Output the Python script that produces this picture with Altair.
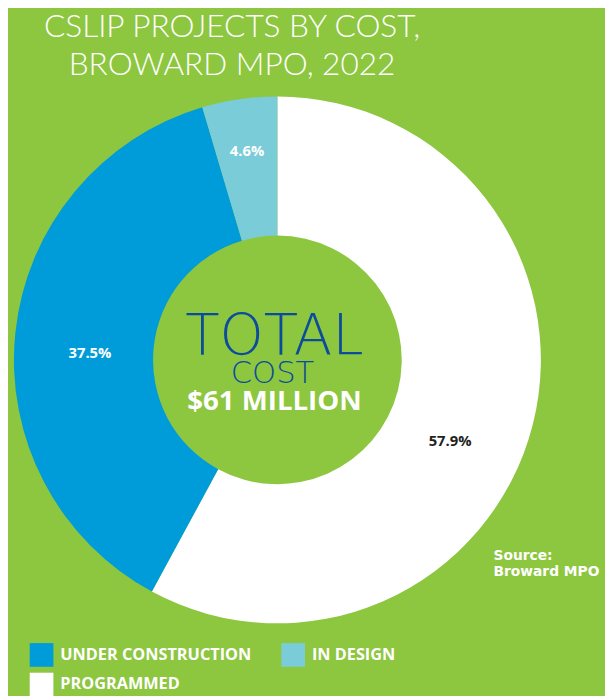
import altair as alt
import pandas as pd

categories = ["PROGRAMMED", "UNDER CONSTRUCTION", "IN DESIGN"]
values = [57.9, 37.5, 4.6]
order = [0, 1, 2]
legend_domain = ["UNDER CONSTRUCTION", "IN DESIGN", "PROGRAMMED"]
legend_colors = ["#009CDA", "#7ACCD8", "#FFFFFF"]
title_lines = ["CSLIP PROJECTS BY COST,", "BROWARD MPO, 2022"]
center_texts = ["TOTAL", "COST", "$61 MILLION"]
source_lines = ["Source:", "Broward MPO"]

GREEN = "#8DC63F"
DARK_BLUE = "#0B4C9C"

df = pd.DataFrame({"category": categories, "value": values, "order": order})

CX, CY = 273, 352

base = alt.Chart(df).transform_calculate(
    label="format(datum.value, '.1f') + '%'"
)

theta = alt.Theta("value:Q", stack=True)

arcs = base.mark_arc(outerRadius=267, innerRadius=126, strokeWidth=0).encode(
    theta=theta,
    order=alt.Order("order:Q"),
    color=alt.Color(
        "category:N",
        scale=alt.Scale(domain=legend_domain, range=legend_colors),
        legend=alt.Legend(
            orient="none", legendX=22, legendY=639, columns=2, direction="horizontal",
            title=None, symbolType="square", symbolSize=576, symbolStrokeWidth=0,
            symbolOpacity=1, labelLimit=400,
            labelFont="Open Sans", labelFontSize=16.5, labelFontWeight="bold",
            labelColor="white", labelOffset=7, rowPadding=6, columnPadding=30,
            padding=0,
        ),
    ),
    x=alt.value(CX),
    y=alt.value(CY),
)


def seg_label(cat, radius, color, dx=0, dy=0):
    return base.mark_text(
        radius=radius, font="Open Sans", fontSize=15, fontWeight="bold",
        dx=dx, dy=dy,
    ).encode(
        theta=theta,
        order=alt.Order("order:Q"),
        text="label:N",
        color=alt.condition(alt.datum.category == cat, alt.value(color), alt.value("transparent")),
        x=alt.value(CX),
        y=alt.value(CY),
    )


lab_prog = seg_label("PROGRAMMED", 195, "#231F20", dx=-14, dy=34)
lab_uc = seg_label("UNDER CONSTRUCTION", 193, "white", dx=2, dy=13)
lab_id = seg_label("IN DESIGN", 214, "white")

txt = alt.Chart(pd.DataFrame({"a": [0]}))

title = txt.mark_text(
    text=title_lines, font="Lato", fontWeight=300, fontSize=32, color="white",
    align="center", baseline="alphabetic", lineHeight=38,
).encode(x=alt.value(227), y=alt.value(25))

total = txt.mark_text(
    text=center_texts[0], font="DejaVu Sans", fontWeight=200, fontSize=57, color=DARK_BLUE,
    align="center", baseline="alphabetic",
).encode(x=alt.value(270), y=alt.value(347))

cost = txt.mark_text(
    text=center_texts[1], font="DejaVu Sans", fontWeight=200, fontSize=31, color=DARK_BLUE,
    align="center", baseline="alphabetic",
).encode(x=alt.value(268), y=alt.value(375))

million = txt.mark_text(
    text=center_texts[2], font="Open Sans", fontWeight="bold", fontSize=28, color="white",
    align="center", baseline="alphabetic",
).encode(x=alt.value(270), y=alt.value(403))

source = txt.mark_text(
    text=source_lines, font="DejaVu Sans", fontWeight="bold", fontSize=14, color="white",
    align="left", baseline="alphabetic", lineHeight=16,
).encode(x=alt.value(492), y=alt.value(555))

chart = alt.layer(arcs, lab_prog, lab_uc, lab_id, title, total, cost, million, source).properties(
    width=605, height=688, background=GREEN, padding=0,
    autosize=alt.AutoSizeParams(type="none"),
).configure_view(strokeWidth=0)

chart.save("out.html", embed_options={"renderer": "svg", "actions": False})
